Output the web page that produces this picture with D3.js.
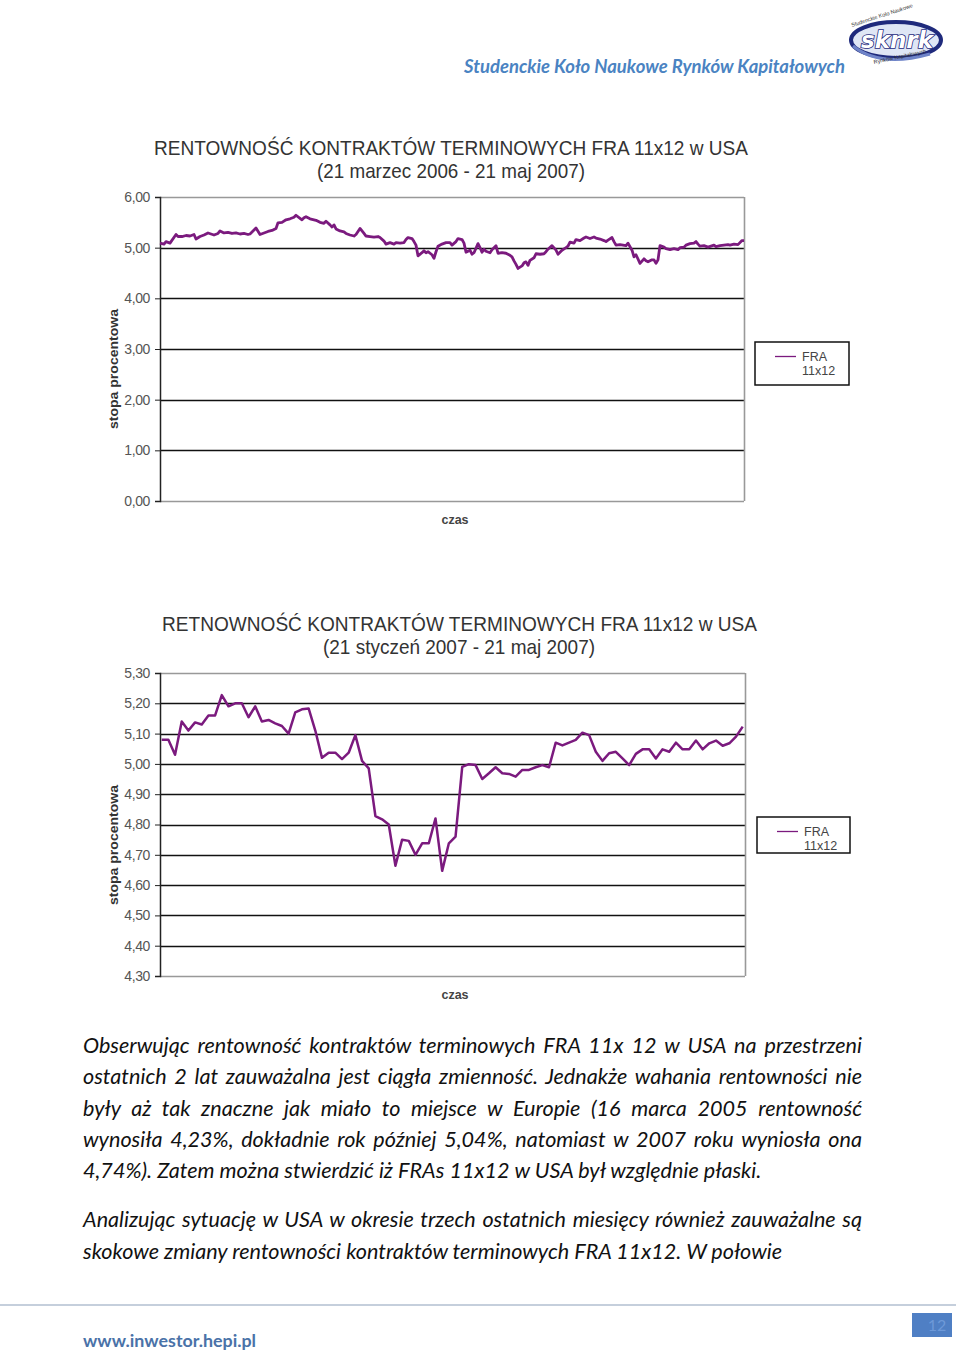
<!DOCTYPE html>
<html><head><meta charset="utf-8">
<script src="https://cdn.jsdelivr.net/npm/d3@7"></script>
<style>
body{margin:0;background:#fff;}
#wrap{position:relative;width:960px;height:1353px;overflow:hidden;}
svg{position:absolute;left:0;top:0;}
.p{position:absolute;left:83px;width:779px;font-family:Lato,"Open Sans",sans-serif;font-style:italic;font-size:21.6px;color:#111;white-space:nowrap;line-height:26px;}
.j{text-align:justify;text-align-last:justify;white-space:normal;}
</style></head>
<body><div id="wrap"></div>
<script>
// ---------- DATA ----------
// Chart 1: trading-day index (21.03.2006 = 0) and FRA 11x12 rate (%)
const days1 = [0,2,3,5,8,9,11,13,15,17,18,20,22,24,27,29,30,32,34,36,38,40,42,44,45,48,50,52,54,56,58,59,61,63,65,67,68,70,71,72,73,75,77,78,80,82,83,85,86,87,88,90,92,93,95,97,98,100,102,103,105,107,109,110,112,113,115,117,118,120,122,123,124,126,127,128,129,131,132,133,134,136,137,138,139,141,143,145,146,148,149,151,152,153,155,156,157,159,160,161,162,163,165,166,168,169,171,173,175,176,177,178,179,181,182,183,184,185,187,188,190,192,193,194,196,198,199,201,203,204,205,207,208,210,212,213,215,217,218,220,222,223,224,226,227,228,230,233,234,236,237,238,240,242,243,244,246,247,248,249,250,252,253,255,257,259,260,262,263,265,267,268,269,270,272,274,277,278,280,282,284,285,287,289,291,292];
const values1 = [5.09,5.07,5.12,5.09,5.26,5.22,5.22,5.24,5.23,5.26,5.17,5.22,5.25,5.29,5.25,5.28,5.33,5.29,5.30,5.28,5.29,5.27,5.28,5.26,5.27,5.39,5.26,5.29,5.32,5.34,5.38,5.49,5.50,5.55,5.57,5.60,5.64,5.58,5.55,5.59,5.61,5.57,5.55,5.54,5.50,5.48,5.52,5.45,5.41,5.45,5.37,5.33,5.31,5.28,5.25,5.23,5.26,5.38,5.28,5.23,5.22,5.21,5.22,5.20,5.13,5.07,5.10,5.07,5.10,5.09,5.10,5.16,5.20,5.18,5.12,5.05,4.84,4.90,4.94,4.90,4.92,4.86,4.79,4.92,5.03,5.07,5.10,5.10,5.05,5.12,5.18,5.16,5.09,4.91,4.95,4.87,4.90,5.08,5.00,4.91,4.97,4.93,4.90,4.96,5.04,4.89,4.90,4.89,4.85,4.82,4.74,4.67,4.59,4.64,4.70,4.72,4.65,4.75,4.80,4.88,4.87,4.88,4.92,4.97,5.04,4.95,4.87,4.95,5.00,5.03,5.11,5.09,5.16,5.14,5.19,5.21,5.18,5.21,5.19,5.17,5.14,5.12,5.15,5.20,5.12,5.05,5.06,5.04,5.09,4.95,4.82,4.86,4.69,4.78,4.74,4.72,4.76,4.76,4.69,4.76,5.04,5.01,4.98,4.96,4.98,4.96,5.00,5.01,5.05,5.08,5.09,5.12,5.07,5.03,5.04,5.01,5.05,5.02,5.04,5.05,5.06,5.05,5.07,5.06,5.14,5.14];
const ticks1 = [0,1,2,3,4,5,6];

// Chart 2: 21.01.2007 - 21.05.2007
const values2 = [5.08,5.08,5.03,5.14,5.11,5.137,5.13,5.16,5.16,5.227,5.19,5.20,5.20,5.154,5.19,5.14,5.145,5.134,5.125,5.10,5.17,5.18,5.183,5.11,5.02,5.037,5.037,5.016,5.037,5.095,5.01,4.985,4.828,4.817,4.80,4.664,4.75,4.746,4.70,4.738,4.738,4.82,4.647,4.738,4.76,4.99,4.999,4.996,4.95,4.969,4.989,4.969,4.967,4.958,4.98,4.98,4.989,4.996,4.989,5.07,5.061,5.07,5.079,5.103,5.095,5.04,5.01,5.035,5.04,5.018,4.996,5.033,5.048,5.048,5.018,5.048,5.04,5.07,5.048,5.048,5.077,5.048,5.068,5.077,5.06,5.068,5.09,5.123];
const days2 = d3.range(values2.length);
const ticks2 = [4.3,4.4,4.5,4.6,4.7,4.8,4.9,5.0,5.1,5.2,5.3];

const seriesName = ["FRA","11x12"];
const titles1 = ["RENTOWNOŚĆ KONTRAKTÓW TERMINOWYCH FRA 11x12 w USA","(21 marzec 2006 - 21 maj 2007)"];
const titles2 = ["RETNOWNOŚĆ KONTRAKTÓW TERMINOWYCH FRA 11x12 w USA","(21 styczeń 2007 - 21 maj 2007)"];
const yLabel = "stopa procentowa", xLabel = "czas";

// ---------- DRAW ----------
const wrap = d3.select("#wrap");
const svg = wrap.append("svg").attr("width",960).attr("height",1353);
const LINE = "#7b1a7e";
const fmt = v => d3.format(".2f")(v).replace(".",",");

// header
svg.append("text").attr("x",464).attr("y",73).attr("textLength",381).attr("lengthAdjust","spacingAndGlyphs")
  .style("font-family","Lato, 'Open Sans', sans-serif").style("font-style","italic").style("font-weight","700")
  .style("font-size","18px").attr("fill","#4a83c2").text("Studenckie Koło Naukowe Rynków Kapitałowych");
// logo
const lg = svg.append("g");
lg.append("ellipse").attr("cx",896).attr("cy",40).attr("rx",45).attr("ry",18).attr("fill","#dfe6f5").attr("stroke","#1f2a7c").attr("stroke-width",4);
lg.append("path").attr("d","M853,46 Q880,68 930,54").attr("fill","none").attr("stroke","#6f84c8").attr("stroke-width",3);
lg.append("text").attr("x",897).attr("y",48).attr("text-anchor","middle").style("font-family","'DejaVu Sans', sans-serif")
  .style("font-weight","bold").style("font-style","italic").style("font-size","23px").attr("fill","#fff").attr("stroke","#1f2a7c").attr("stroke-width",1.6).attr("paint-order","stroke").text("sknrk");
lg.append("text").attr("x",852).attr("y",27).attr("transform","rotate(-18,852,27)").style("font-family","Liberation Sans, sans-serif").style("font-size","5.5px").attr("fill","#333").text("Studenckie Koło Naukowe");
lg.append("text").attr("x",874).attr("y",64).attr("transform","rotate(-12,874,64)").style("font-family","Liberation Sans, sans-serif").style("font-size","5.5px").attr("fill","#333").text("Rynków Kapitałowych");

function chart(o){
  const g = svg.append("g");
  const x = d3.scaleLinear().domain(o.xDomain).range(o.xr);
  const y = d3.scaleLinear().domain([o.ticks[0], o.ticks[o.ticks.length-1]]).range([o.y1, o.y0]);
  // titles
  g.append("text").attr("x",o.tx).attr("y",o.ty).attr("textLength",o.tw).attr("lengthAdjust","spacingAndGlyphs")
    .style("font-family","'Liberation Sans', Arial, sans-serif").style("font-size","21px").attr("fill","#333").text(o.titles[0]);
  g.append("text").attr("x",o.sx).attr("y",o.ty+23).attr("text-anchor","middle").attr("textLength",o.sw).attr("lengthAdjust","spacingAndGlyphs")
    .style("font-family","'Liberation Sans', Arial, sans-serif").style("font-size","21px").attr("fill","#333").text(o.titles[1]);
  // gridlines
  const inner = o.ticks.slice(1,-1);
  g.selectAll(".gl").data(inner).join("line").attr("x1",o.x0).attr("x2",o.x1)
    .attr("y1",d=>Math.round(y(d))+0.5).attr("y2",d=>Math.round(y(d))+0.5).attr("stroke","#111").attr("stroke-width",1.3);
  // border
  g.append("line").attr("x1",o.x0).attr("x2",o.x1).attr("y1",o.y0+0.5).attr("y2",o.y0+0.5).attr("stroke","#999").attr("stroke-width",1.3);
  g.append("line").attr("x1",o.x0).attr("x2",o.x1).attr("y1",o.y1+0.5).attr("y2",o.y1+0.5).attr("stroke","#999").attr("stroke-width",1.3);
  g.append("line").attr("x1",o.x1+0.5).attr("x2",o.x1+0.5).attr("y1",o.y0).attr("y2",o.y1).attr("stroke","#999").attr("stroke-width",1.6);
  // y axis
  const ax = g.append("g").attr("transform",`translate(${o.x0},0)`)
    .call(d3.axisLeft(y).tickValues(o.ticks).tickFormat(fmt).tickSize(5).tickPadding(5));
  ax.select(".domain").attr("stroke","#222").attr("stroke-width",1.5);
  ax.selectAll(".tick line").attr("stroke","#222");
  ax.selectAll(".tick text").style("font-family","'Liberation Sans', Arial, sans-serif").style("font-size","14px").attr("fill","#555").attr("letter-spacing","-0.4");
  // labels
  g.append("text").attr("transform",`translate(${o.ylx},${o.yly}) rotate(-90)`).attr("text-anchor","middle")
    .attr("textLength",o.ylw).attr("lengthAdjust","spacingAndGlyphs")
    .style("font-family","'Liberation Sans', Arial, sans-serif").style("font-weight","bold").style("font-size","13.5px").attr("fill","#333").text(yLabel);
  g.append("text").attr("x",455).attr("y",o.y1+23).attr("text-anchor","middle")
    .style("font-family","'Liberation Sans', Arial, sans-serif").style("font-weight","bold").style("font-size","12.5px").attr("fill","#444").text(xLabel);
  // line
  g.append("path").datum(o.days.map((d,i)=>[d,o.values[i]]))
    .attr("d",d3.line().x(d=>x(d[0])).y(d=>y(d[1])))
    .attr("fill","none").attr("stroke",LINE).attr("stroke-width",o.lw).attr("stroke-linejoin","round");
  // legend
  const L = o.leg;
  g.append("rect").attr("x",L[0]).attr("y",L[1]).attr("width",L[2]).attr("height",L[3]).attr("fill","#fff").attr("stroke","#111").attr("stroke-width",1.5);
  g.append("line").attr("x1",L[0]+20).attr("x2",L[0]+41).attr("y1",L[1]+14.5).attr("y2",L[1]+14.5).attr("stroke",LINE).attr("stroke-width",1.3);
  g.append("text").attr("x",L[0]+47).attr("y",L[1]+19).style("font-family","'Liberation Sans', Arial, sans-serif").style("font-size","12.5px").attr("fill","#444").text(seriesName[0]);
  g.append("text").attr("x",L[0]+47).attr("y",L[1]+33).style("font-family","'Liberation Sans', Arial, sans-serif").style("font-size","12.5px").attr("fill","#444").text(seriesName[1]);
}

chart({days:days1, values:values1, ticks:ticks1, xDomain:[0,292], x0:160, x1:744, xr:[160,744], y0:197, y1:501,
  titles:titles1, tx:154, ty:155, tw:594, sx:451, sw:268, ylx:118, yly:369, ylw:120, lw:2.8, leg:[755,342,94,43]});
chart({days:days2, values:values2, ticks:ticks2, xDomain:[0,values2.length-1], x0:160, x1:745, xr:[161.7,742.7], y0:673, y1:976,
  titles:titles2, tx:162, ty:631, tw:595, sx:459, sw:272, ylx:118, yly:845, ylw:120, lw:2.5, leg:[757,817,93,36]});

// footer
svg.append("line").attr("x1",0).attr("x2",956).attr("y1",1305).attr("y2",1305).attr("stroke","#c5cfdc").attr("stroke-width",2);
svg.append("text").attr("x",83).attr("y",1347).attr("textLength",173).attr("lengthAdjust","spacingAndGlyphs")
  .style("font-family","Lato, 'Open Sans', sans-serif").style("font-weight","700").style("font-size","17px").attr("fill","#4a72a8").text("www.inwestor.hepi.pl");
svg.append("rect").attr("x",912).attr("y",1313).attr("width",40).attr("height",24).attr("fill","#4f7fc4");
svg.append("text").attr("x",937).attr("y",1331).attr("text-anchor","middle").style("font-family","Lato, sans-serif").style("font-size","16px").attr("fill","#6d99d8").text("12");

// paragraphs
const lines = [
 ["Obserwując rentowność kontraktów terminowych FRA 11x 12 w USA na przestrzeni",1,1032],
 ["ostatnich 2 lat zauważalna jest ciągła zmienność. Jednakże wahania rentowności nie",1,1063],
 ["były aż tak znaczne jak miało to miejsce w Europie (16 marca 2005 rentowność",1,1095],
 ["wynosiła 4,23%, dokładnie rok później 5,04%, natomiast w 2007 roku wyniosła ona",1,1126],
 ["4,74%). Zatem można stwierdzić iż FRAs 11x12 w USA był względnie płaski.",0,1157],
 ["Analizując sytuację w USA w okresie trzech ostatnich miesięcy również zauważalne są",1,1206],
 ["skokowe zmiany rentowności kontraktów terminowych FRA 11x12. W połowie",0,1238]
];
wrap.selectAll("div.p").data(lines).join("div").attr("class",d=>"p"+(d[1]?" j":"")).style("top",d=>d[2]+"px").text(d=>d[0]);
</script></body></html>
